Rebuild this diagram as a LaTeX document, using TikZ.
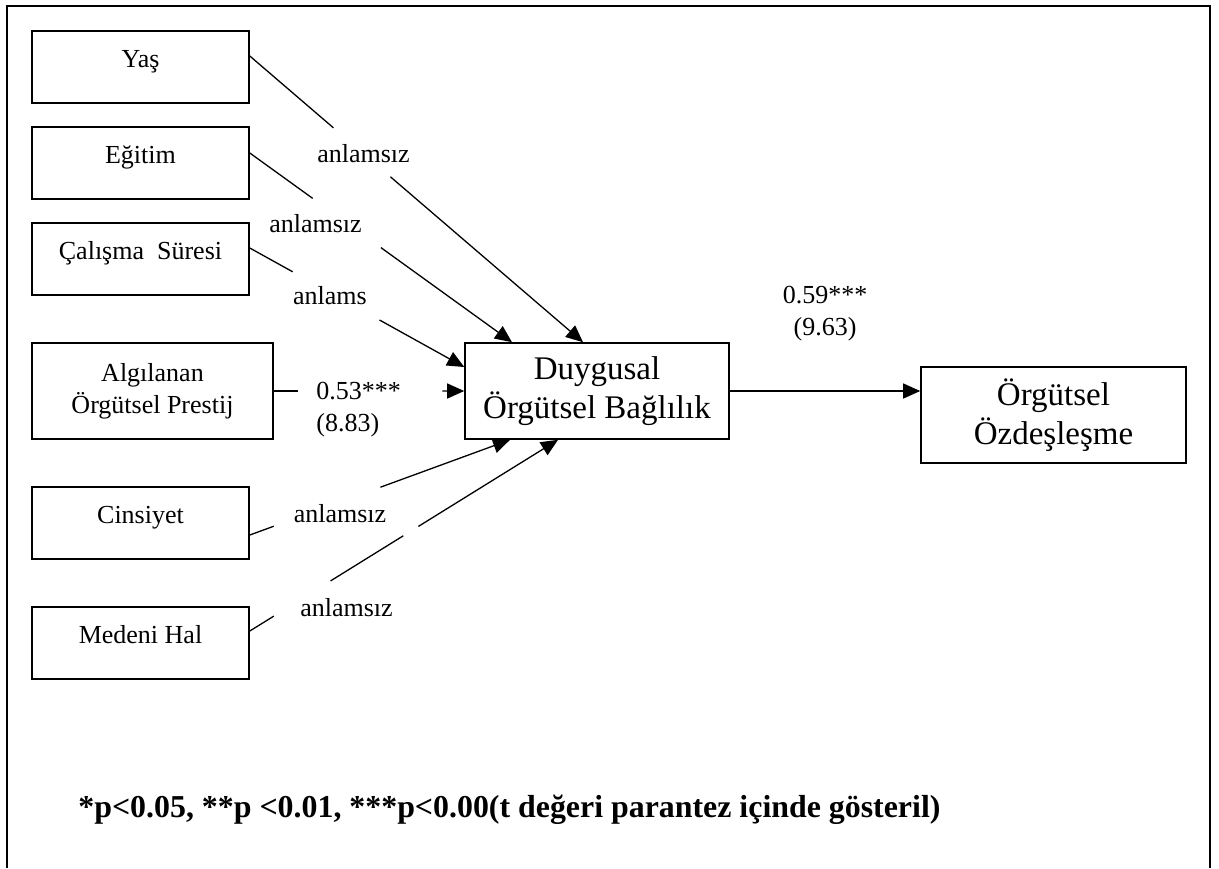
\documentclass[tikz,border=0pt]{standalone}
\usepackage{fontspec}
\setmainfont{Liberation Serif}
\usetikzlibrary{arrows.meta,calc}
\begin{document}
\begin{tikzpicture}[x=0.5pt,y=-0.5pt,
  smallfont/.style={font=\fontsize{13}{16}\selectfont},
  bigfont/.style={font=\fontsize{16.5}{19.5}\selectfont},
  varbox/.style={draw, line width=0.8pt, rectangle, inner sep=0pt, smallfont,
    minimum width=108.5pt, minimum height=36pt, text height=9pt, text depth=9pt},
  mainbox/.style={draw, line width=0.8pt, rectangle, inner sep=0pt, align=center,
    minimum width=132pt, minimum height=48pt},
  conn/.style={line width=0.65pt},
  arr/.style={-{Triangle[length=8.5pt,width=7.5pt]}},
  lbl/.style={inner sep=0pt, smallfont}
]
\useasboundingbox (0,0) rectangle (1219,868);

% outer frame
\draw[line width=1pt, line join=miter] (7,868) -- (7,6) -- (1210,6) -- (1210,868);

% predictor boxes
\node[varbox] (yas) at (140.5,67)  {Yaş};
\node[varbox] (egi) at (140.5,163) {Eğitim};
\node[varbox] (cal) at (140.5,259) {Çalışma\ \ Süresi};
\node[mainbox, smallfont, minimum width=120.5pt] (alg) at (152.5,391) {Algılanan\\Örgütsel Prestij};
\node[varbox] (cin) at (140.5,523) {Cinsiyet};
\node[varbox] (med) at (140.5,643) {Medeni Hal};

% mediator and outcome
\node[mainbox, bigfont] (duy) at (597,391) {Duygusal\\Örgütsel Bağlılık};
\node[mainbox, bigfont, minimum width=132.5pt] (ozd) at (1053.5,415) {Örgütsel\\Özdeşleşme};

% connector end points
\coordinate (a1) at ([yshift=5.5pt]yas.east);
\coordinate (b1) at ([xshift=-7pt]duy.north);
\coordinate (a2) at ([yshift=5pt]egi.east);
\coordinate (b2) at ([xshift=-42.5pt]duy.north);
\coordinate (a3) at ([yshift=5.5pt]cal.east);
\coordinate (b3) at ([yshift=12pt]duy.west);
\coordinate (a5) at ([yshift=-6pt]cin.east);
\coordinate (b5) at ([xshift=-43.5pt]duy.south);
\coordinate (a6) at ([yshift=6pt]med.east);
\coordinate (b6) at ([xshift=-19.5pt]duy.south);
\coordinate (b7) at ([yshift=12pt]ozd.west);

% paths, broken where the labels sit
\draw[conn] (a1) -- ($(a1)!0.251!(b1)$);
\draw[conn,arr] ($(a1)!0.422!(b1)$) -- (b1);
\draw[conn] (a2) -- ($(a2)!0.240!(b2)$);
\draw[conn,arr] ($(a2)!0.500!(b2)$) -- (b2);
\draw[conn] (a3) -- ($(a3)!0.200!(b3)$);
\draw[conn,arr] ($(a3)!0.605!(b3)$) -- (b3);
\draw[conn] (alg.east) -- ($(alg.east)!0.125!(duy.west)$);
\draw[conn,arr] ($(alg.east)!0.885!(duy.west)$) -- (duy.west);
\draw[conn] (a5) -- ($(a5)!0.092!(b5)$);
\draw[conn,arr] ($(a5)!0.502!(b5)$) -- (b5);
\draw[conn] (a6) -- ($(a6)!0.078!(b6)$);
\draw[conn] ($(a6)!0.262!(b6)$) -- ($(a6)!0.498!(b6)$);
\draw[conn,arr] ($(a6)!0.547!(b6)$) -- (b6);
\draw[conn,arr] (duy.east) -- (b7);

% path labels
\node[lbl, anchor=base] (l1) at (363.5,162) {anlamsız};
\node[lbl, anchor=base] (l2) at (315.5,232) {anlamsız};
\node[lbl, anchor=base] (l3) at (330,304) {anlams};
\node[lbl, anchor=west, align=left] (l4) at (316,410) {0.53***\\(8.83)};
\node[lbl, anchor=base] (l5) at (340,522) {anlamsız};
\node[lbl, anchor=base] (l6) at (346.5,616) {anlamsız};
\node[lbl, align=center] (l7) at (825,314) {0.59***\\(9.63)};

% significance note
\node[anchor=base west, inner sep=0pt] (note) at (78,817)
  {\resizebox{431pt}{!}{\fontsize{15}{18}\selectfont\bfseries *p<0.05, **p <0.01, ***p<0.00(t değeri parantez içinde gösteril)}};
\end{tikzpicture}
\end{document}
